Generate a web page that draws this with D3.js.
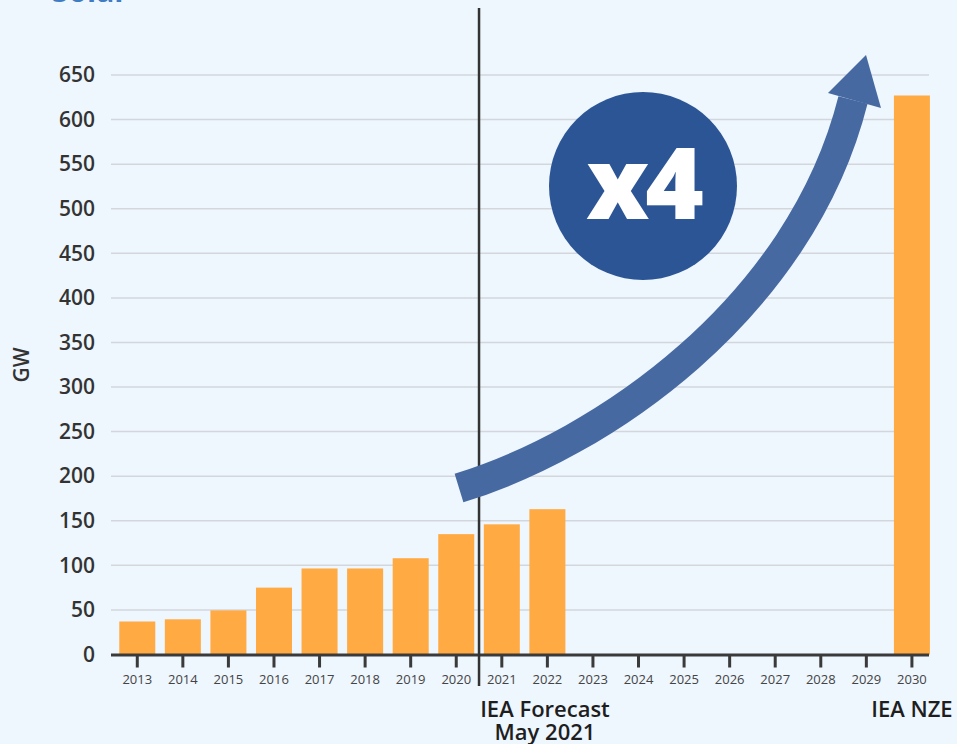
<!DOCTYPE html>
<html>
<head>
<meta charset="utf-8">
<script src="https://cdn.jsdelivr.net/npm/d3@7"></script>
<style>
  html, body { margin: 0; padding: 0; background: #eef6fe; }
  svg { display: block; font-family: 'Open Sans', sans-serif; }
</style>
</head>
<body>
<svg width="957" height="744"></svg>
<script>
// values (GW)
const years = ['2013', '2014', '2015', '2016', '2017', '2018', '2019', '2020', '2021',
  '2022', '2023', '2024', '2025', '2026', '2027', '2028', '2029', '2030']
const barYears = ['2013', '2014', '2015', '2016', '2017', '2018', '2019', '2020', '2021', '2022', '2030']
const gw = [37, 39.5, 49.5, 75, 96.5, 96.5, 108, 135, 146, 163, 627]
const yTicks = [0, 50, 100, 150, 200, 250, 300, 350, 400, 450, 500, 550, 600, 650]

const data = barYears.map((y, i) => ({ year: y, value: gw[i] }))

let svg = d3.select('svg')

let x = d3.scaleBand()
  .domain(years)
  .range([114.5, 934.7])
  .paddingInner(0.21)
  .paddingOuter(0.105)

let y = d3.scaleLinear()
  .domain([0, 650])
  .range([654.5, 75])

const left = 111
const right = 929

// cut-off title at the very top
svg.append('text')
  .attr('x', 52)
  .attr('y', 1.5)
  .attr('fill', '#3f7cc4')
  .attr('font-size', 30)
  .attr('font-weight', 700)
  .text('Solar')

// gridlines
svg.append('g')
  .selectAll('line')
  .data(yTicks.filter(d => d > 0))
  .enter()
  .append('line')
  .attr('x1', left)
  .attr('x2', right)
  .attr('y1', d => y(d))
  .attr('y2', d => y(d))
  .attr('stroke', '#d3d7dc')
  .attr('stroke-width', 1.5)

// y axis labels
let yAxis = svg.append('g')
  .attr('transform', 'translate(' + left + ',0)')
  .call(d3.axisLeft(y).tickValues(yTicks).tickSize(0).tickPadding(16))
yAxis.select('.domain').remove()
yAxis.selectAll('text')
  .attr('font-family', "'Open Sans', sans-serif")
  .attr('font-size', 21)
  .attr('font-weight', 600)
  .attr('fill', '#333')

svg.append('text')
  .attr('transform', 'translate(29,365) rotate(-90)')
  .attr('text-anchor', 'middle')
  .attr('font-size', 21)
  .attr('font-weight', 600)
  .attr('fill', '#333')
  .text('GW')

// bars
svg.append('g')
  .selectAll('rect')
  .data(data)
  .enter()
  .append('rect')
  .attr('x', d => x(d.year))
  .attr('y', d => y(d.value))
  .attr('width', x.bandwidth())
  .attr('height', d => y(0) - y(d.value))
  .attr('fill', '#ffaa42')

// x axis
let xAxis = svg.append('g')
  .attr('transform', 'translate(0,' + y(0) + ')')
  .call(d3.axisBottom(x).tickSize(13).tickPadding(7))
xAxis.select('.domain').remove()
xAxis.selectAll('.tick line')
  .attr('stroke', '#3a3a3a')
  .attr('stroke-width', 3)
xAxis.selectAll('text')
  .attr('font-family', "'Open Sans', sans-serif")
  .attr('font-size', 13)
  .attr('fill', '#444')

svg.append('line')
  .attr('x1', left)
  .attr('x2', right)
  .attr('y1', y(0) + 0.5)
  .attr('y2', y(0) + 0.5)
  .attr('stroke', '#3a3a3a')
  .attr('stroke-width', 3)

// forecast divider
const divX = (x('2020') + x.bandwidth() + x('2021')) / 2
svg.append('line')
  .attr('x1', divX)
  .attr('x2', divX)
  .attr('y1', 8)
  .attr('y2', 686)
  .attr('stroke', '#333')
  .attr('stroke-width', 2.5)

svg.append('text')
  .attr('x', 545)
  .attr('y', 717)
  .attr('text-anchor', 'middle')
  .attr('font-size', 22)
  .attr('font-weight', 600)
  .attr('fill', '#1e1e1e')
  .text('IEA Forecast')
svg.append('text')
  .attr('x', 545)
  .attr('y', 740)
  .attr('text-anchor', 'middle')
  .attr('font-size', 22)
  .attr('font-weight', 600)
  .attr('fill', '#1e1e1e')
  .text('May 2021')
svg.append('text')
  .attr('x', x('2030') + x.bandwidth() / 2)
  .attr('y', 717)
  .attr('text-anchor', 'middle')
  .attr('font-size', 22)
  .attr('font-weight', 600)
  .attr('fill', '#1e1e1e')
  .text('IEA NZE')

// growth arrow
let path = d3.path()
path.moveTo(459, 488)
path.bezierCurveTo(600, 445, 800, 310, 853, 100)
svg.append('path')
  .attr('d', path.toString())
  .attr('fill', 'none')
  .attr('stroke', '#4769a2')
  .attr('stroke-width', 30)
svg.append('polygon')
  .attr('points', '866,55 828,93 881,108')
  .attr('fill', '#4769a2')

// x4 badge
svg.append('circle')
  .attr('cx', 643)
  .attr('cy', 186)
  .attr('r', 94)
  .attr('fill', '#2c5596')
svg.append('text')
  .attr('x', 643)
  .attr('y', 219)
  .attr('text-anchor', 'middle')
  .attr('font-size', 100)
  .attr('font-weight', 800)
  .attr('fill', '#fff')
  .attr('letter-spacing', -4)
  .text('x4')
</script>
</body>
</html>
